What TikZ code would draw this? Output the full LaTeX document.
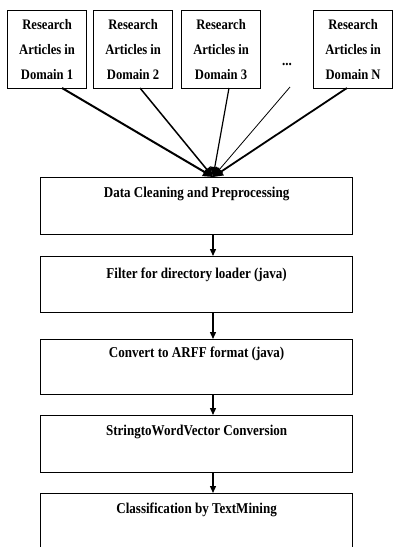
\documentclass[tikz,border=0pt]{standalone}
\usepackage{fontspec}
\setmainfont{Liberation Serif}
\newfontfamily\narrowbold[FakeStretch=0.87]{Liberation Serif Bold}
\usetikzlibrary{arrows.meta}
\begin{document}
\begin{tikzpicture}[x=1pt,y=-1pt,
  src/.style={draw,line width=1.2pt,minimum width=79pt,minimum height=78pt,inner sep=0pt,align=center,font=\narrowbold\fontsize{14.5}{25}\selectfont,anchor=north west},
  stepbox/.style={draw,line width=1.2pt,minimum width=312pt,inner sep=0pt,anchor=north west},
  lbl/.style={font=\narrowbold\fontsize{15}{16}\selectfont},
  flow/.style={line width=1.3pt,-{Triangle[length=7pt,width=6pt]}},
  feed/.style={-{Triangle[length=10pt,width=9pt]}}]
\useasboundingbox (0,0) rectangle (393,547);
\clip (0,0) rectangle (393,547);
\node[src] (d1) at (7,10) {Research\\Articles in\\Domain 1};
\node[src] (d2) at (93,10) {Research\\Articles in\\Domain 2};
\node[src] (d3) at (181,10) {Research\\Articles in\\Domain 3};
\node[src] (dn) at (313,10) {Research\\Articles in\\Domain N};
\node[font=\narrowbold\fontsize{15}{16}\selectfont] (dots) at (287,64) {...};
\coordinate (dotsend) at (290,87);
\node[stepbox,minimum height=57pt] (s1) at (40,177) {};
\node[stepbox,minimum height=56pt] (s2) at (40,256) {};
\node[stepbox,minimum height=55pt] (s3) at (40,339) {};
\node[stepbox,minimum height=57pt] (s4) at (40,415) {};
\node[stepbox,minimum height=80pt] (s5) at (40,493) {};
\node[lbl] at ([yshift=-17pt]s1.north) {Data Cleaning and Preprocessing};
\node[lbl] at ([yshift=-19pt]s2.north) {Filter for directory loader (java)};
\node[lbl] at ([yshift=-15pt]s3.north) {Convert to ARFF format (java)};
\node[lbl] at ([yshift=-17pt]s4.north) {StringtoWordVector Conversion};
\node[lbl] at ([yshift=-17pt]s5.north) {Classification by TextMining};
\coordinate (hub) at (213,177);
\draw[feed,line width=2pt] (62,88) -- (hub);
\draw[feed,line width=1.5pt] (140,88) -- (hub);
\draw[feed,line width=1.2pt] (229,88) -- (hub);
\draw[feed,line width=0.8pt] (dotsend) -- (hub);
\draw[feed,line width=1.8pt] (347,88) -- (hub);
\draw[flow] (s1.south -| hub) -- (s2.north -| hub);
\draw[flow] (s2.south -| hub) -- (s3.north -| hub);
\draw[flow] (s3.south -| hub) -- (s4.north -| hub);
\draw[flow] (s4.south -| hub) -- (s5.north -| hub);
\end{tikzpicture}
\end{document}
